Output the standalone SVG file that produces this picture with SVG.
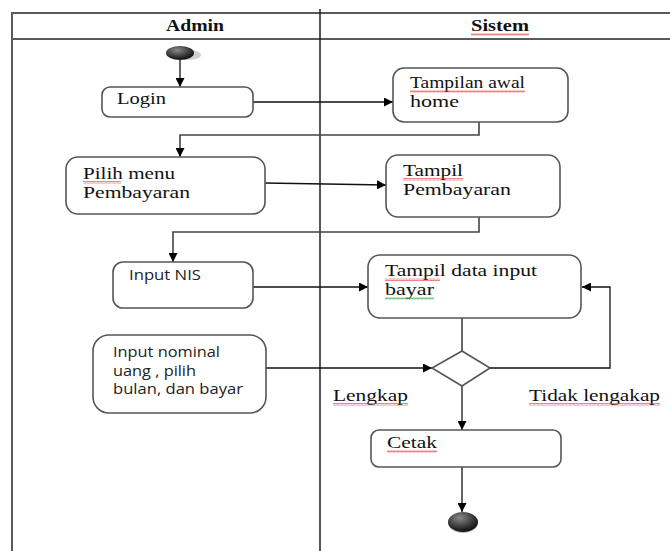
<svg xmlns="http://www.w3.org/2000/svg" width="670" height="551" viewBox="0 0 670 551">
<style>
.tbl{fill:none;stroke:#5a5a5a;stroke-width:2}
.div{fill:none;stroke:#111;stroke-width:1.4}
.box{fill:#fff;stroke:#555;stroke-width:1.6}
.ser{font-family:"Liberation Serif","Times New Roman",serif;font-size:17.5px;fill:#111}
.hdr{font-family:"Liberation Serif","Times New Roman",serif;font-size:16px;font-weight:bold;fill:#111}
.san{font-family:"Open Sans","Liberation Sans",Arial,sans-serif;font-size:14.5px;fill:#222}
.con{fill:none;stroke:#111;stroke-width:1.3}
.con2{fill:none;stroke:#444;stroke-width:1.6}
.red{fill:url(#sqr)}
.grn{fill:url(#sqg)}
</style>
<defs>
<marker id="arr" viewBox="0 0 10 10" refX="10" refY="5" markerWidth="9" markerHeight="9" markerUnits="userSpaceOnUse" orient="auto">
<path d="M0,0 L10,5 L0,10 Z" fill="#000"/>
</marker>
<radialGradient id="dot" cx="0.4" cy="0.3" r="0.8">
<stop offset="0" stop-color="#8a8a8a"/>
<stop offset="0.6" stop-color="#333"/>
<stop offset="1" stop-color="#000"/>
</radialGradient>
<pattern id="sqr" width="4" height="3" patternUnits="userSpaceOnUse">
<path d="M0,2.5 L1,0.5 L2,2.5 L3,0.5 L4,2.5" fill="none" stroke="#e03030" stroke-width="0.6"/>
</pattern>
<pattern id="sqg" width="4" height="3" patternUnits="userSpaceOnUse">
<path d="M0,2.5 L1,0.5 L2,2.5 L3,0.5 L4,2.5" fill="none" stroke="#30a030" stroke-width="0.6"/>
</pattern>
</defs>

<g id="swimlanes">
<path class="tbl" d="M12,551 V13 H670"/>
<path class="tbl" d="M12,39 H670"/>
<path class="div" d="M320,9 V551"/>
<text class="hdr" x="166" y="31" textLength="58" lengthAdjust="spacingAndGlyphs">Admin</text>
<text class="hdr" x="471" y="31" textLength="58" lengthAdjust="spacingAndGlyphs">Sistem</text>
<rect class="red" x="471" y="33" width="58" height="3"/>
</g>

<g id="connectors">
<path class="con" d="M180,60 V87" marker-end="url(#arr)"/>
<path class="con" d="M253,102 H393" marker-end="url(#arr)"/>
<path class="con2" d="M479,122 V135 H180 V157" marker-end="url(#arr)"/>
<path class="con" d="M265,183 L386,185" marker-end="url(#arr)"/>
<path class="con2" d="M479,217 V232 H173 V262" marker-end="url(#arr)"/>
<path class="con" d="M253,287 H368" marker-end="url(#arr)"/>
<path class="con2" d="M462,318 V351"/>
<path class="con" d="M266,368 H432" marker-end="url(#arr)"/>
<path class="con" d="M490,368 H610 V287 H582" marker-end="url(#arr)"/>
<path class="con2" d="M462,386 V430" marker-end="url(#arr)"/>
<path class="con" d="M462,467 V512" marker-end="url(#arr)"/>
</g>

<g id="start">
<ellipse cx="189" cy="55" rx="12" ry="5" fill="#d0d0d0"/>
<ellipse cx="180" cy="53" rx="14" ry="7" fill="url(#dot)"/>
</g>

<g id="login">
<rect class="box" x="102" y="87" width="151" height="30" rx="8"/>
<text class="ser" x="117" y="104" textLength="49" lengthAdjust="spacingAndGlyphs">Login</text>
</g>

<g id="tampilan-awal">
<rect class="box" x="393" y="68" width="175" height="54" rx="11"/>
<text class="ser" x="410" y="88" textLength="115" lengthAdjust="spacingAndGlyphs">Tampilan awal</text>
<text class="ser" x="410" y="107" textLength="49" lengthAdjust="spacingAndGlyphs">home</text>
<rect class="red" x="410" y="90" width="115" height="3"/>
</g>

<g id="pilih-menu">
<rect class="box" x="66" y="157" width="199" height="57" rx="12"/>
<text class="ser" x="83" y="179" textLength="92" lengthAdjust="spacingAndGlyphs">Pilih menu</text>
<text class="ser" x="83" y="198" textLength="107" lengthAdjust="spacingAndGlyphs">Pembayaran</text>
<rect class="red" x="83" y="181" width="38" height="3"/>
</g>

<g id="tampil-pembayaran">
<rect class="box" x="386" y="155" width="174" height="62" rx="12"/>
<text class="ser" x="403" y="176" textLength="60" lengthAdjust="spacingAndGlyphs">Tampil</text>
<text class="ser" x="403" y="195" textLength="108" lengthAdjust="spacingAndGlyphs">Pembayaran</text>
<rect class="red" x="403" y="178" width="60" height="3"/>
</g>

<g id="input-nis">
<rect class="box" x="113" y="262" width="140" height="46" rx="10"/>
<text class="san" x="129" y="280" textLength="72" lengthAdjust="spacingAndGlyphs">Input NIS</text>
</g>

<g id="tampil-data">
<rect class="box" x="368" y="255" width="213" height="63" rx="12"/>
<text class="ser" x="385" y="276" textLength="152" lengthAdjust="spacingAndGlyphs">Tampil data input</text>
<text class="ser" x="385" y="295" textLength="49" lengthAdjust="spacingAndGlyphs">bayar</text>
<rect class="red" x="385" y="278" width="55" height="3"/>
<rect class="grn" x="385" y="297" width="49" height="3"/>
</g>

<g id="input-nominal">
<rect class="box" x="93" y="335" width="173" height="78" rx="16"/>
<text class="san" x="113" y="357" textLength="107" lengthAdjust="spacingAndGlyphs">Input nominal</text>
<text class="san" x="113" y="376" textLength="83" lengthAdjust="spacingAndGlyphs">uang , pilih</text>
<text class="san" x="113" y="394" textLength="130" lengthAdjust="spacingAndGlyphs">bulan, dan bayar</text>
</g>

<g id="decision">
<path d="M462,351 L490,368 L462,386 L432,368 Z" fill="#fff" stroke="#555" stroke-width="1.6"/>
<text class="ser" x="333" y="401" textLength="75" lengthAdjust="spacingAndGlyphs">Lengkap</text>
<rect class="red" x="333" y="403" width="75" height="3"/>
<text class="ser" x="529" y="401" textLength="131" lengthAdjust="spacingAndGlyphs">Tidak lengakap</text>
<rect class="red" x="529" y="403" width="131" height="3"/>
</g>

<g id="cetak">
<rect class="box" x="371" y="430" width="190" height="37" rx="8"/>
<text class="ser" x="387" y="448" textLength="50" lengthAdjust="spacingAndGlyphs">Cetak</text>
<rect class="red" x="387" y="450" width="50" height="3"/>
</g>

<g id="end">
<ellipse cx="463" cy="523" rx="15" ry="10" fill="#bbb"/>
<ellipse cx="463" cy="522" rx="15" ry="10" fill="url(#dot)"/>
</g>
</svg>
